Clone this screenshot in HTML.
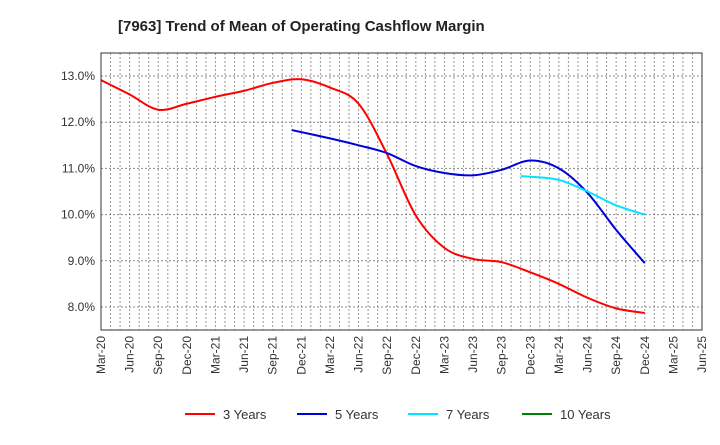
<!DOCTYPE html>
<html><head><meta charset="utf-8"><style>body{margin:0;background:#fff}svg{font-family:"Liberation Sans",sans-serif}</style></head>
<body>
<svg id="chart" width="720" height="440" viewBox="0 0 720 440" xmlns="http://www.w3.org/2000/svg">
<text x="118" y="31" font-size="15" font-weight="bold" fill="#222">[7963]  Trend of Mean of Operating Cashflow Margin</text>
<g id="grid"></g><g id="series"></g><g id="axes"></g><g id="legend"></g>
</svg>
<script>
const xLabels=["Mar-20","Jun-20","Sep-20","Dec-20","Mar-21","Jun-21","Sep-21","Dec-21","Mar-22","Jun-22","Sep-22","Dec-22","Mar-23","Jun-23","Sep-23","Dec-23","Mar-24","Jun-24","Sep-24","Dec-24","Mar-25","Jun-25"];
const yTicks=[8,9,10,11,12,13];
const m3=[0,3,6,9,12,15,18,21,24,27,30,33,36,39,42,45,48,51,54,57];
const v3=[12.91,12.6,12.27,12.4,12.55,12.68,12.85,12.93,12.75,12.4,11.3,9.98,9.28,9.04,8.97,8.75,8.5,8.2,7.97,7.87];
const m5=[20,24,27,30,33,36,39,42,45,48,51,54,57];
const v5=[11.83,11.65,11.5,11.33,11.05,10.9,10.85,10.97,11.17,11.0,10.47,9.67,8.95];
const m7=[44,45,48,51,54,57];
const v7=[10.83,10.82,10.75,10.5,10.2,10.0];
const m10=[];const v10=[];
const L=101,R=702,T=53,B=330;
const X=m=>L+(R-L)*m/63;
const Y=v=>76+(13-v)*46.2;
const ns="http://www.w3.org/2000/svg";
function mk(t,a,p){const e=document.createElementNS(ns,t);for(const k in a)e.setAttribute(k,a[k]);p.appendChild(e);return e;}
const g=document.getElementById('grid'),ax=document.getElementById('axes'),s=document.getElementById('series'),lg=document.getElementById('legend');
for(let m=1;m<63;m++){const l=mk('line',{x1:X(m),x2:X(m),y1:T,y2:B,stroke:'#999','stroke-dasharray':'2,2','stroke-width':1},g);}
yTicks.forEach(v=>{const l=mk('line',{x1:L,x2:R,y1:Y(v),y2:Y(v),stroke:'#888','stroke-dasharray':'2,2'},g);
const t=mk('text',{x:L-6,y:Y(v)+4,'text-anchor':'end','font-size':12,fill:'#333'},ax);t.textContent=v.toFixed(1)+'%';});
const fr=mk('rect',{x:L,y:T,width:R-L,height:B-T,fill:'none',stroke:'#333'},ax);
xLabels.forEach((lb,i)=>{const x=X(i*3);const t=mk('text',{x:0,y:0,transform:`translate(${x+4},${B+6}) rotate(-90)`,'text-anchor':'end','font-size':12,fill:'#333'},ax);t.textContent=lb;});
function path(ms,vs){const p=ms.map((m,i)=>[X(m),Y(vs[i])]);if(!p.length)return'';let d=`M${p[0][0]},${p[0][1]}`;for(let i=0;i<p.length-1;i++){const p0=p[i-1]||p[i],p1=p[i],p2=p[i+1],p3=p[i+2]||p2;d+=` C${p1[0]+(p2[0]-p0[0])/6},${p1[1]+(p2[1]-p0[1])/6} ${p2[0]-(p3[0]-p1[0])/6},${p2[1]-(p3[1]-p1[1])/6} ${p2[0]},${p2[1]}`;}return d;}
const ser=[["3 Years",m3,v3,"#ff0000"],["5 Years",m5,v5,"#0000dd"],["7 Years",m7,v7,"#00e5ff"],["10 Years",m10,v10,"#008000"]];
const lx=[185,297,408,522];
ser.forEach((sr,i)=>{if(sr[1].length){const p=mk('path',{d:path(sr[1],sr[2]),fill:'none',stroke:sr[3],'stroke-width':2},s);}
const l=mk('line',{x1:lx[i],x2:lx[i]+30,y1:414,y2:414,stroke:sr[3],'stroke-width':2},lg);
const t=mk('text',{x:lx[i]+38,y:419,'font-size':13,fill:'#333'},lg);t.textContent=sr[0];});
</script>
</body></html>
